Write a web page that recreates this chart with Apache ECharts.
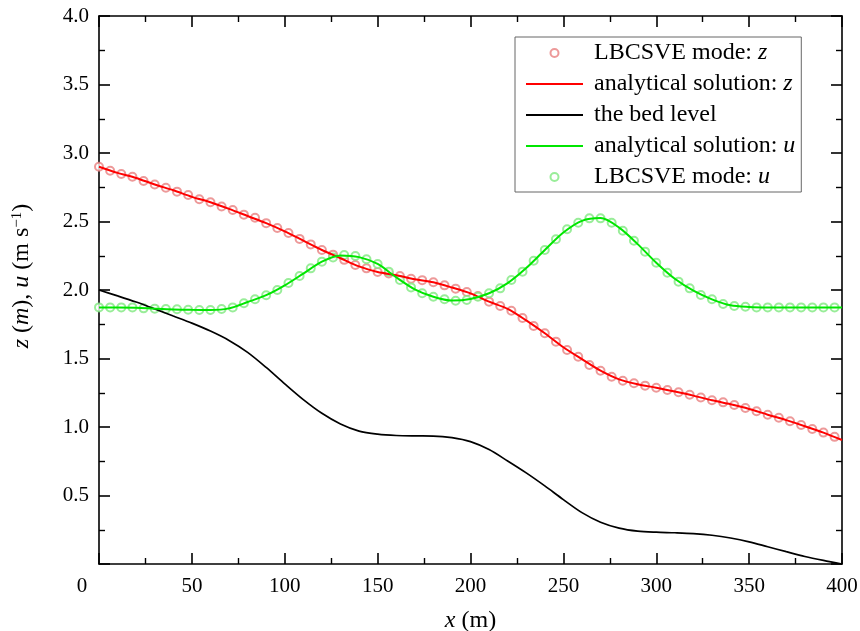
<!DOCTYPE html>
<html><head><meta charset="utf-8">
<script src="https://cdn.jsdelivr.net/npm/echarts@6/dist/echarts.min.js"></script>
<style>html,body{margin:0;padding:0;background:#fff}#c{width:860px;height:631px}</style>
</head><body><div id="c"></div>
<script>
// analytical curves (x step 10 m)
const xLine = [0,10,20,30,40,50,60,70,80,90,100,110,120,130,140,150,160,170,180,190,200,210,220,230,240,250,260,270,280,290,300,310,320,330,340,350,360,370,380,390,400];
const zLine = [2.900,2.855,2.818,2.770,2.728,2.680,2.640,2.592,2.540,2.488,2.428,2.360,2.292,2.232,2.172,2.131,2.108,2.079,2.056,2.018,1.975,1.915,1.862,1.778,1.684,1.582,1.495,1.411,1.348,1.312,1.287,1.259,1.229,1.195,1.166,1.132,1.090,1.050,1.006,0.959,0.905];
const bedLine = [2.000,1.957,1.912,1.862,1.810,1.758,1.700,1.632,1.545,1.435,1.315,1.200,1.100,1.022,0.970,0.948,0.938,0.935,0.934,0.922,0.893,0.835,0.752,0.665,0.570,0.470,0.375,0.305,0.262,0.240,0.232,0.228,0.222,0.210,0.190,0.162,0.126,0.090,0.055,0.026,0.000];
const uLine = [1.873,1.873,1.871,1.864,1.858,1.855,1.854,1.866,1.912,1.962,2.034,2.120,2.207,2.252,2.240,2.190,2.093,2.005,1.951,1.923,1.935,1.976,2.050,2.160,2.292,2.420,2.505,2.525,2.455,2.335,2.199,2.082,1.995,1.932,1.888,1.876,1.873,1.873,1.873,1.873,1.873];
// LBCSVE model results (x step 6 m)
const xMarks = [0,6,12,18,24,30,36,42,48,54,60,66,72,78,84,90,96,102,108,114,120,126,132,138,144,150,156,162,168,174,180,186,192,198,204,210,216,222,228,234,240,246,252,258,264,270,276,282,288,294,300,306,312,318,324,330,336,342,348,354,360,366,372,378,384,390,396];
const zMarks = [2.900,2.871,2.847,2.827,2.796,2.770,2.747,2.718,2.693,2.662,2.640,2.610,2.584,2.550,2.527,2.488,2.453,2.416,2.373,2.333,2.292,2.258,2.220,2.182,2.158,2.131,2.120,2.102,2.082,2.072,2.056,2.034,2.010,1.985,1.956,1.915,1.883,1.849,1.796,1.737,1.684,1.623,1.562,1.513,1.453,1.411,1.367,1.338,1.319,1.302,1.287,1.270,1.253,1.236,1.215,1.195,1.180,1.160,1.139,1.115,1.090,1.068,1.042,1.015,0.985,0.959,0.928];
const uMarks = [1.873,1.873,1.873,1.873,1.866,1.864,1.861,1.859,1.856,1.854,1.854,1.861,1.873,1.903,1.932,1.962,2.000,2.051,2.102,2.158,2.207,2.238,2.255,2.248,2.224,2.190,2.134,2.073,2.019,1.976,1.951,1.932,1.922,1.927,1.951,1.976,2.012,2.073,2.134,2.214,2.292,2.370,2.443,2.491,2.523,2.523,2.491,2.433,2.360,2.280,2.199,2.126,2.061,2.012,1.963,1.932,1.898,1.883,1.878,1.873,1.873,1.873,1.873,1.873,1.873,1.873,1.873];
const seriesNames = ['LBCSVE mode: z','analytical solution: z','the bed level','analytical solution: u','LBCSVE mode: u'];

const pairs = (xs, ys) => xs.map((x, i) => [x, ys[i]]);
const FONT = 'Liberation Serif';

const chart = echarts.init(document.getElementById('c'));
const axisCommon = {
  axisLine: {show: true, onZero: false, lineStyle: {color: '#000', width: 1.6}},
  axisTick: {show: true, inside: true, length: 11, lineStyle: {color: '#000', width: 1.6}},
  minorTick: {show: true, splitNumber: 2, length: 6, lineStyle: {color: '#000', width: 1.4}},
  splitLine: {show: false},
  minorSplitLine: {show: false}
};
const legendData = seriesNames.map((n, i) => (i === 1 || i === 2 || i === 3) ? {name: n, itemStyle: {opacity: 0}} : {name: n});
chart.setOption({
  animation: false,
  backgroundColor: '#fff',
  grid: {left: 99, right: 18, top: 16, bottom: 67, containLabel: false, outerBoundsMode: 'none'},
  legend: {
    data: legendData,
    orient: 'vertical',
    left: 515, top: 37,
    itemWidth: 57, itemHeight: 8,
    itemGap: 7,
    padding: [4, 6, 3, 10],
    borderColor: '#666', borderWidth: 1,
    backgroundColor: '#fff',
    selectedMode: false,
    formatter: n => n.replace(/: (z|u)$/, ': {i|$1}'),
    textStyle: {fontFamily: FONT, fontSize: 24, color: '#000', lineHeight: 24, padding: [0, 0, 0, 6],
      rich: {i: {fontFamily: FONT, fontSize: 24, fontStyle: 'italic', color: '#000', lineHeight: 24}}}
  },
  xAxis: [
    Object.assign({}, axisCommon, {
      type: 'value', min: 0, max: 400, interval: 50, position: 'bottom',
      name: '{i|x} (m)', nameLocation: 'middle', nameGap: 45,
      nameTextStyle: {fontFamily: FONT, fontSize: 24, color: '#000',
        rich: {i: {fontFamily: FONT, fontSize: 24, fontStyle: 'italic', color: '#000'}}},
      axisLabel: {margin: 12, fontFamily: FONT, fontSize: 21, color: '#000',
        formatter: v => v === 0 ? '{o|0}' : String(v),
        rich: {o: {fontFamily: FONT, fontSize: 21, color: '#000', padding: [0, 34, 0, 0]}}}
    }),
    Object.assign({}, axisCommon, {
      type: 'value', min: 0, max: 400, interval: 50, position: 'top',
      axisLabel: {show: false}
    })
  ],
  yAxis: [
    Object.assign({}, axisCommon, {
      type: 'value', min: 0, max: 4, interval: 0.5, position: 'left',
      name: '{i|z} ({i|m}), {i|u} (m s{s|−1})', nameLocation: 'middle', nameGap: 65,
      nameTextStyle: {fontFamily: FONT, fontSize: 24, color: '#000', padding: [0, 0, 0, 28],
        rich: {i: {fontFamily: FONT, fontSize: 24, fontStyle: 'italic', color: '#000'},
               s: {fontFamily: FONT, fontSize: 15, color: '#000', verticalAlign: 'top'}}},
      axisLabel: {margin: 10, fontFamily: FONT, fontSize: 21, color: '#000',
        formatter: v => v === 0 ? '' : v.toFixed(1)}
    }),
    Object.assign({}, axisCommon, {
      type: 'value', min: 0, max: 4, interval: 0.5, position: 'right',
      axisLabel: {show: false}
    })
  ],
  series: [
    {name: seriesNames[0], type: 'scatter', data: pairs(xMarks, zMarks), symbol: 'emptyCircle', symbolSize: 8, z: 2,
      itemStyle: {color: '#e8807f', borderColor: '#e8807f', borderWidth: 1, opacity: 0.8}},
    {name: seriesNames[1], type: 'line', data: pairs(xLine, zLine), symbol: 'none', smooth: 0.3, z: 4,
      lineStyle: {color: '#ff0000', width: 2}, itemStyle: {color: '#ff0000'}},
    {name: seriesNames[2], type: 'line', data: pairs(xLine, bedLine), symbol: 'none', smooth: 0.3, z: 4,
      lineStyle: {color: '#000', width: 1.7}, itemStyle: {color: '#000'}},
    {name: seriesNames[3], type: 'line', data: pairs(xLine, uLine), symbol: 'none', smooth: 0.3, z: 4,
      lineStyle: {color: '#00e600', width: 2}, itemStyle: {color: '#00e600'}},
    {name: seriesNames[4], type: 'scatter', data: pairs(xMarks, uMarks), symbol: 'emptyCircle', symbolSize: 8, z: 2,
      itemStyle: {color: '#80e880', borderColor: '#80e880', borderWidth: 1, opacity: 0.8}}
  ]
});
</script></body></html>
